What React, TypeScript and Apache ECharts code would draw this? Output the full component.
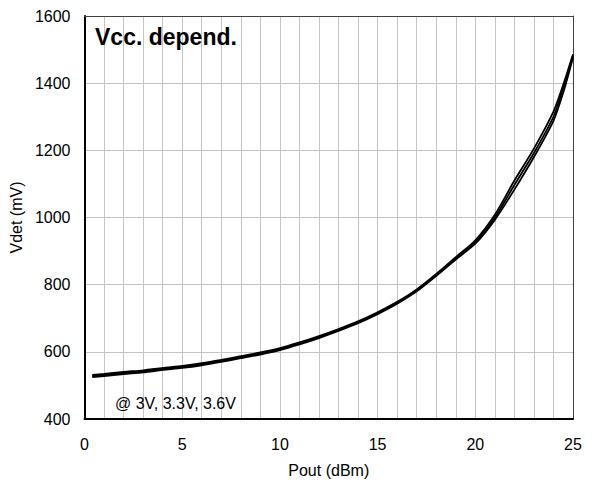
import React, { useEffect, useRef } from "react";
import * as echarts from "echarts";

const pout = [0.4, 1, 2, 3, 4, 5, 6, 7, 8, 9, 10, 11, 12, 13, 14, 15, 16, 17, 18, 19, 20, 21, 22, 23, 24, 24.5, 25];
const vdet3V0 = [525, 528, 534, 539, 546, 552, 560, 570, 581, 592, 605, 622, 641, 662, 685, 712, 743, 780, 826, 875, 922, 993, 1083, 1180, 1288, 1372, 1476];
const vdet3V3 = [528, 531, 537, 542, 549, 555, 563, 573, 584, 595, 608, 625, 644, 665, 688, 715, 746, 783, 829, 878, 927, 1000, 1097, 1192, 1300, 1385, 1482];
const vdet3V6 = [531, 534, 540, 545, 552, 558, 566, 576, 587, 598, 611, 628, 647, 668, 691, 718, 749, 786, 832, 882, 932, 1008, 1110, 1205, 1315, 1395, 1486];

const xTicks = { min: 0, max: 25, step: 5 };
const yTicks = { min: 400, max: 1600, step: 200 };

const titleText = "Vcc. depend.";
const noteText = "@ 3V, 3.3V, 3.6V";
const xName = "Pout (dBm)";
const yName = "Vdet (mV)";

const FONT = "'Liberation Sans', Arial, sans-serif";

function pairs(xs: number[], ys: number[]) {
  return xs.map((x, i) => [x, ys[i]]);
}

export default function App() {
  const ref = useRef<HTMLDivElement>(null);
  useEffect(() => {
    if (!ref.current) return;
    const chart = echarts.init(ref.current, null, { renderer: "svg" });
    const gridColor = "#c4c4c4";
    const lineStyle = { color: "#000", width: 1.8 };
    const mkSeries = (name: string, ys: number[]) => ({
      name,
      type: "line",
      data: pairs(pout, ys),
      showSymbol: false,
      symbol: "none",
      smooth: 0.25,
      lineStyle,
      z: 5,
    });
    chart.setOption({
      animation: false,
      backgroundColor: "#fff",
      textStyle: { fontFamily: FONT },
      grid: { left: 84, right: 19, top: 16, bottom: 60 },
      xAxis: [
        {
          type: "value",
          min: xTicks.min,
          max: xTicks.max,
          interval: xTicks.step,
          name: xName,
          nameLocation: "middle",
          nameGap: 43,
          nameTextStyle: { color: "#000", fontSize: 16, fontFamily: FONT },
          axisLine: { show: true, onZero: false, lineStyle: { color: "#000", width: 2 } },
          axisTick: { show: false },
          axisLabel: { color: "#000", fontSize: 16, margin: 17, fontFamily: FONT, formatter: (v: number) => String(v) },
          splitLine: { show: true, lineStyle: { color: gridColor, width: 1 } },
          minorTick: { show: false, splitNumber: 5 },
          minorSplitLine: { show: true, lineStyle: { color: gridColor, width: 1 } },
        },
        {
          type: "value",
          position: "top",
          min: xTicks.min,
          max: xTicks.max,
          interval: xTicks.step,
          axisLine: { show: true, onZero: false, lineStyle: { color: "#404040", width: 1 } },
          axisTick: { show: false },
          axisLabel: { show: false },
          splitLine: { show: false },
        },
      ],
      yAxis: [
        {
          type: "value",
          min: yTicks.min,
          max: yTicks.max,
          interval: yTicks.step,
          name: yName,
          nameLocation: "middle",
          nameGap: 56,
          nameTextStyle: { color: "#000", fontSize: 16, fontFamily: FONT },
          axisLine: { show: true, onZero: false, lineStyle: { color: "#000", width: 2 } },
          axisTick: { show: false },
          axisLabel: { color: "#000", fontSize: 16, margin: 14, fontFamily: FONT, formatter: (v: number) => String(v) },
          splitLine: { show: true, lineStyle: { color: gridColor, width: 1 } },
        },
        {
          type: "value",
          position: "right",
          min: yTicks.min,
          max: yTicks.max,
          interval: yTicks.step,
          axisLine: { show: true, onZero: false, lineStyle: { color: "#404040", width: 1 } },
          axisTick: { show: false },
          axisLabel: { show: false },
          splitLine: { show: false },
        },
      ],
      graphic: [
        {
          type: "text",
          left: 95,
          top: 25,
          z: 10,
          style: { text: titleText, fontSize: 23, fontWeight: "bold", fill: "#000", fontFamily: FONT },
        },
        {
          type: "text",
          left: 115,
          top: 395,
          z: 10,
          style: { text: noteText, fontSize: 16, fill: "#000", fontFamily: FONT },
        },
      ],
      series: [mkSeries("3V", vdet3V0), mkSeries("3.3V", vdet3V3), mkSeries("3.6V", vdet3V6)],
    });
    return () => chart.dispose();
  }, []);
  return (
    <div
      ref={ref}
      style={{ position: "fixed", left: 0, top: 0, width: 592, height: 483, background: "#fff" }}
    />
  );
}
